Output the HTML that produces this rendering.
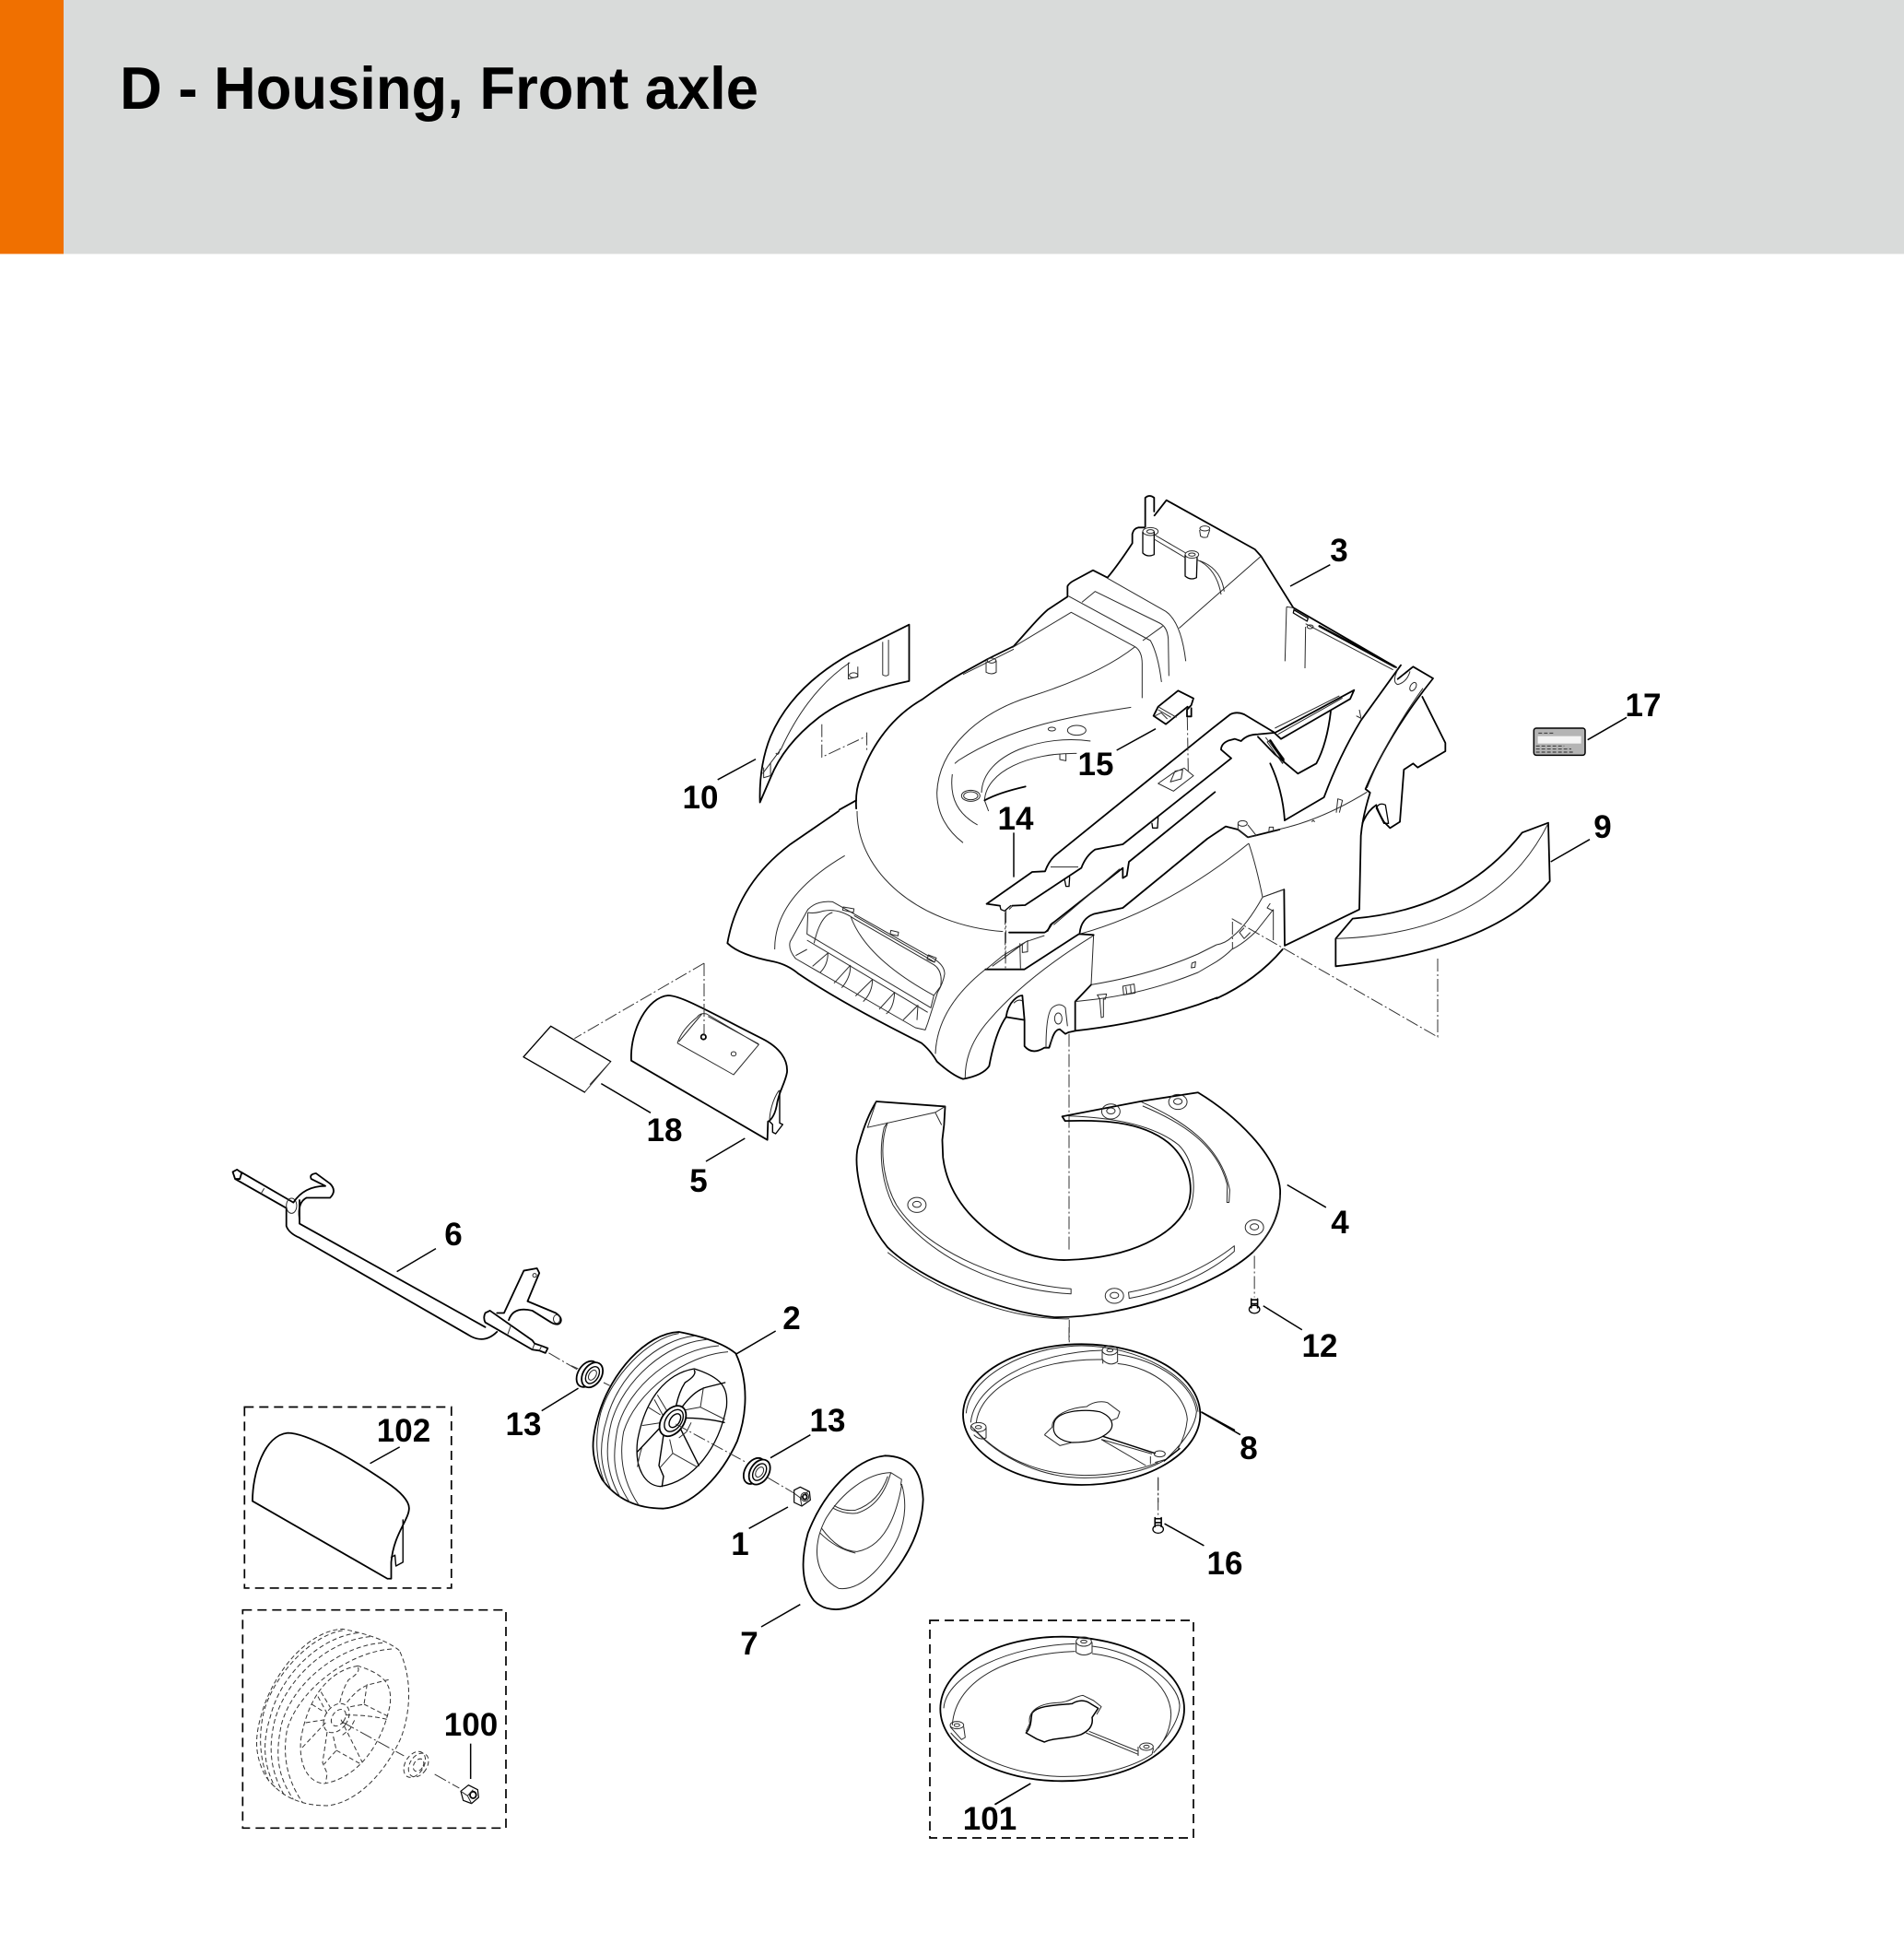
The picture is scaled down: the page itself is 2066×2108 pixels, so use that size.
<!DOCTYPE html>
<html><head><meta charset="utf-8"><title>D - Housing, Front axle</title>
<style>
html,body{margin:0;padding:0;background:#fff}
svg{display:block}
svg *{vector-effect:non-scaling-stroke}
.k{fill:none;stroke:#000;stroke-width:1.8;stroke-linejoin:round;stroke-linecap:round}
.s{fill:none;stroke:#2a2a2a;stroke-width:1;stroke-linejoin:round}
.d{fill:none;stroke:#333;stroke-width:1;stroke-dasharray:14 3 2 3}
.b{fill:none;stroke:#000;stroke-width:1.7;stroke-dasharray:10 6}
.w{fill:none;stroke:#333;stroke-width:1;stroke-dasharray:5 3}
.l{fill:none;stroke:#000;stroke-width:1.5}
.f{fill:#fff;stroke:#000;stroke-width:1.8;stroke-linejoin:round}
text{font-family:"Liberation Sans",sans-serif;font-weight:bold;fill:#000}
.n{font-size:35px;text-anchor:middle}
</style></head><body>
<svg xmlns="http://www.w3.org/2000/svg" width="2066" height="2108" viewBox="0 0 2066 2108">
<rect width="2066" height="2108" fill="#fff"/>
<rect width="2066" height="275.5" fill="#d9dbda"/>
<rect width="69" height="275.5" fill="#f07000"/>
<text x="130" y="118" font-size="65" textLength="693" lengthAdjust="spacingAndGlyphs">D - Housing, Front axle</text>

<!-- z1: part 10, dome -->
<g transform="translate(750,500) scale(.574,.4464)">
<path class="k" d="M412 398L412 535Q300 565 240 625Q175 690 150 770L130 830Q128 740 150 670Q190 550 300 470Z"/>
<path class="s" d="M300 490Q220 560 170 700L135 760M362 440L362 520Q368 525 373 520L373 435M297 490L297 530L315 525L315 500M137 745L137 770L150 765L150 735M160 710Q165 720 168 700"/>
<ellipse class="s" cx="307" cy="521" rx="8" ry="6"/>
<path class="d" d="M247 640L247 720L330 670M332 660L332 705"/>
<path class="l" d="M50 775L122 725"/>
<path class="k" d="M435 581C370 630 335 710 320 770Q310 800 312 845"/>
<path class="k" d="M312 825L280 848"/>
</g>

<!-- z7: upper housing -->
<g transform="translate(1000,520) scale(.33333)">
<path class="k" d="M0 718C45 685 90 655 130 632L215 585L300 543C340 500 375 455 410 425L475 382L475 348Q480 338 495 330L558 296L605 320C630 290 665 240 686 208L686 178Q690 160 705 157L725 157"/>
<path class="k" d="M728 155L728 60M757 60L757 105M728 60Q742 48 757 60M758 118L797 68L1085 228L1105 250L1210 418L1545 612"/>
<ellipse class="s" cx="745" cy="170" rx="25" ry="13"/><ellipse class="s" cx="745" cy="170" rx="12" ry="6"/>
<path class="k" d="M720 172L720 240Q735 255 757 245L757 172" style="stroke-width:1.3"/>
<ellipse class="s" cx="880" cy="245" rx="22" ry="12"/><ellipse class="s" cx="880" cy="245" rx="11" ry="5"/>
<path class="k" d="M858 248L858 315Q875 330 895 320L897 255" style="stroke-width:1.3"/>
<ellipse class="s" cx="922" cy="160" rx="16" ry="8"/>
<path class="s" d="M905 165L908 185Q918 192 930 188L938 165"/>
<path class="s" d="M757 180L860 240M757 195L858 255M897 262Q960 290 975 375M905 265Q975 290 985 365"/>
<path class="s" d="M1105 250L838 485M785 478L720 525"/>
<path class="s" d="M605 322L795 430Q845 465 860 592M478 380L745 525Q770 570 781 660M522 400L565 365L775 468Q800 480 803 520L805 640M295 548L487 433L695 545Q718 560 718 600L718 712"/>
<path class="s" d="M1188 415L1183 592M1188 415L1210 418M1250 480L1248 615"/>
<ellipse class="s" cx="1265" cy="480" rx="10" ry="6"/>
<path class="k" d="M1212 425L1258 452L1255 462L1210 435Z" style="stroke-width:1.3"/>
<path class="k" d="M1295 478L1540 610" style="stroke-width:2.4"/>
<path class="s" d="M1250 470L1535 620"/>
<ellipse class="s" cx="228" cy="590" rx="14" ry="8"/>
<path class="s" d="M210 592L210 628Q228 638 243 628L243 590M135 635L300 553"/>
<path class="s" d="M695 545C600 620 470 670 360 705C180 760 55 880 50 1020C50 1090 85 1145 135 1183"/>
<path class="s" d="M682 742C500 770 300 800 120 915L108 925M100 960C90 1040 120 1090 182 1125M550 852C400 830 200 890 195 1020M505 892C350 890 210 950 205 1045L218 1080"/>
<path class="k" d="M205 1045Q250 1020 338 1000"/>
<path class="s" d="M450 895L450 912L470 916L470 893"/>
<ellipse class="s" cx="505" cy="817" rx="30" ry="16"/><ellipse class="s" cx="424" cy="813" rx="12" ry="6"/>
<ellipse class="s" cx="160" cy="1030" rx="30" ry="18"/><ellipse class="s" cx="160" cy="1030" rx="23" ry="13"/>
<!-- plate 14 -->
<path class="k" d="M212 1382L360 1278L402 1276Q415 1240 440 1220L945 812L1005 765Q1025 755 1050 765L1150 825L1408 686L1395 715L1170 845L1148 825"/>
<path class="k" d="M212 1382L255 1388M295 1388L337 1386L520 1265Q535 1225 565 1205L655 1188L1008 908L975 880Q975 860 1000 850L1020 845L1040 852Q1060 830 1095 830L1148 825"/>
<path class="s" d="M420 1262L510 1262M285 1400L295 1390M1150 810L1360 705M1160 830L1370 712"/>
<path class="k" d="M255 1388L258 1400L270 1405L290 1388M465 1300L470 1325L480 1325L482 1295M750 1120L752 1135L768 1135L770 1100" style="stroke-width:1.3"/>
<path class="s" d="M770 990L820 955L855 940L885 965L820 1015ZM810 985L825 950L850 945L845 975Z"/>
<path class="d" d="M865 775L868 950M272 1408L272 1560"/>
<!-- part 15 -->
<path class="k" d="M755 770L770 740L835 688L885 713L878 735L864 750L864 772L878 772L878 745M755 770L795 797L866 740"/>
<path class="s" d="M770 740L830 775M770 750L812 775M760 770L780 760L800 780"/>
<path class="l" d="M762 812L635 882M300 1150L300 1295M1330 278L1200 348"/>
<!-- lower edges -->
<path class="k" d="M410 1470L420 1450L655 1265L655 1298L668 1290L675 1245L955 1018"/>
<path class="s" d="M430 1450L645 1268"/>
<path class="k" d="M515 1475Q520 1430 560 1415L655 1395L930 1170L990 1130L1030 1140L1062 1165L1085 1160L1165 1140"/>
<path class="s" d="M1065 1185Q1090 1260 1110 1360M1110 1360L1178 1335M515 1480Q800 1400 1065 1185"/>
<path class="k" d="M1135 925Q1175 1010 1182 1110M1095 838L1150 895L1225 958L1285 925Q1320 860 1332 755"/>
<path class="s" d="M1120 840L1180 920M1135 850L1180 910L1175 925L1125 855Z"/>
<path class="k" d="M1135 850L1178 915" style="stroke-width:2.4"/>
<path class="s" d="M1160 1140Q1300 1110 1450 1018"/>
<ellipse class="s" cx="1045" cy="1120" rx="15" ry="9"/>
<path class="s" d="M1030 1122L1030 1140L1060 1165L1090 1160L1062 1125M1130 1150L1132 1132L1145 1132L1145 1145M1350 1085L1355 1040L1370 1045L1360 1085M1270 1115L1275 1110L1280 1115"/>
</g>

<!-- z5: right side, 9, 17 -->
<g transform="translate(1320,720) scale(.33333)">
<path class="k" d="M220 735L222 918L465 800L470 560Q475 500 500 420L485 408Q560 230 705 48L640 10L590 50"/>
<path class="s" d="M672 80Q550 250 490 405M220 735L150 760Q100 850 50 890Q30 910 0 915M185 800L130 870Q90 910 50 930Q30 950 0 970M185 800L185 900M175 780L165 795L185 805"/>
<path class="k" d="M222 510L350 435Q400 300 470 185L600 5"/>
<path class="k" d="M670 108L745 258L745 285L655 338L640 325L610 345L597 515L565 535L545 515Q525 480 520 460Q490 480 475 520"/>
<path class="k" d="M520 470Q530 450 550 460L560 520L545 520Z" style="stroke-width:1.3"/>
<path class="s" d="M590 20Q570 60 590 68Q620 60 630 25M455 170L475 180M465 150L470 175M90 860L75 875L90 895L110 875"/>
<ellipse class="s" cx="640" cy="75" rx="9" ry="15" transform="rotate(30 640 75)"/>
<path class="k" d="M0 1090Q130 1030 215 930"/>
<path class="d" d="M720 960L720 1215L50 830M52 840L52 930"/>
<!-- 9 -->
<path class="k" d="M388 895L443 830Q800 800 995 550L1080 518L1085 708Q900 930 388 985Z"/>
<path class="s" d="M388 895Q900 880 1080 520"/>
<path class="l" d="M1088 645L1215 572M1208 248L1335 175"/>
<!-- 17 -->
<rect x="1033" y="210" width="167" height="88" rx="8" ry="8" fill="#b4b4b4" stroke="#000" stroke-width="1.5"/>
<rect x="1046" y="236" width="141" height="24" fill="#f4f4f4"/>
<path d="M1048 226L1098 226M1040 268L1132 268M1040 278L1155 278M1040 288L1165 288" stroke="#222" stroke-width=".9" stroke-dasharray="4 2" fill="none"/>
</g>

<!-- z8: front housing -->
<g transform="translate(780,880) scale(.33333)">
<path class="k" d="M390 0L230 110Q60 240 28 430Q70 470 180 490Q225 500 260 530Q400 625 660 755Q690 780 710 815Q760 860 795 872Q860 860 880 830Q900 720 935 670L995 680L995 765Q1020 795 1060 770L1075 770L1085 740Q1095 710 1110 710L1128 725L1138 720L1160 715Q1380 690 1560 630L1622 607"/>
<path class="s" d="M410 145Q180 280 182 450M450 0C450 200 650 370 925 392"/>
<path class="k" d="M945 395L1060 395Q1070 392 1085 365"/>
<path class="s" d="M290 320Q320 290 370 295L680 470Q735 495 735 530Q730 560 712 590L680 690L672 712L640 705L250 480Q225 450 232 425Z"/>
<path class="s" d="M290 330L287 400L690 640L700 600L722 570Q730 520 700 500L440 350Q390 315 340 325Q310 335 290 330"/>
<path class="s" d="M287 420L680 655M310 430Q330 340 370 330M430 345Q480 480 700 600M440 340L700 490"/>
<path class="s" d="M305 505L355 462Q355 500 330 525M375 560L428 502Q430 540 400 575M445 602L500 548Q500 590 470 620M522 645L572 590Q570 640 545 660M600 680L648 632L645 680M250 470L287 450"/>
<path class="s" d="M405 312L440 318L438 330L403 322ZM560 388L585 394L583 406L558 400ZM682 468L708 478L702 492L678 482Z"/>
<path class="s" d="M705 790Q710 640 868 515M802 870Q800 770 880 680Q1000 540 1220 405M1220 403L1212 565"/>
<path class="k" d="M868 515L995 515L1172 400L1220 403"/>
<path class="s" d="M870 515L925 470L1000 425L1060 405M890 505L1000 425M980 430L982 512M988 430L988 460L1005 458L1005 420"/>
<path class="k" d="M1160 715L1160 620L1212 565"/>
<path class="s" d="M1212 565Q1400 535 1560 465L1620 435M1160 620L1230 612Q1400 590 1560 525L1620 490"/>
<path class="s" d="M1232 598L1262 595L1258 612L1252 612L1252 670L1245 672L1240 612ZM1315 570L1352 563L1355 592L1318 598ZM1325 572L1328 595M1340 568L1342 592M1540 495L1552 490L1550 508L1538 510Z"/>
<path class="s" d="M1065 770Q1065 660 1085 640Q1110 620 1128 640L1135 700"/>
<ellipse class="s" cx="1105" cy="675" rx="12" ry="18"/>
<path class="k" d="M995 680L988 600Q975 600 960 615Q940 635 935 670"/>
<path class="s" d="M960 625Q975 610 988 618M1085 740L1078 768"/>
<path class="d" d="M935 322L933 515M1140 725L1140 1435"/>
</g>

<!-- z6: part 5, 18 -->
<g transform="translate(540,1020) scale(.33333)">
<path class="k" d="M435 392C430 290 490 185 555 180C600 180 700 240 860 320C920 350 945 390 942 430C935 470 915 490 908 540C900 580 882 590 880 590L878 650L435 392"/>
<path class="s" d="M915 490C895 520 885 560 885 590"/>
<path class="k" d="M918 490L918 595L928 600L905 630L895 625L895 600L885 590" style="stroke-width:1.4"/>
<path class="s" d="M585 335L768 438L850 340L680 240Q660 235 650 250Q600 290 585 335M665 240L590 330M685 248L850 338"/>
<ellipse class="k" cx="670" cy="315" rx="8" ry="8"/><ellipse class="s" cx="768" cy="370" rx="8" ry="7"/>
<path class="d" d="M672 75L672 310M672 75L250 320"/>
<path class="s" d="M173 280L368 395L283 495L84 380ZM368 395L300 470"/>
<path class="k" d="M173 280L368 395M283 495L84 380L173 280" style="stroke-width:1.3"/>
<path class="l" d="M337 467L498 562M805 645L678 720"/>
</g>

<!-- z3: part 4 and screws -->
<g transform="translate(900,1150) scale(.3827,.5421)">
<path class="k" d="M133 83L328 93L325 130L320 160L322 195C340 300 470 355 520 375C570 395 640 402 680 400C860 395 970 350 1010 300C1040 260 1020 200 960 165C880 120 760 120 668 122L660 113L888 82L1045 65C1150 110 1270 190 1278 260C1280 310 1250 350 1200 385C1100 450 850 515 640 515C480 505 260 440 165 375Q130 345 110 310C75 240 70 190 85 165Q105 115 133 83Z"/>
<path class="s" d="M133 83L108 135L300 105L328 93M300 105L318 130"/>
<path class="s" d="M165 125C140 170 150 240 190 290C280 390 520 450 685 458L685 468C500 462 280 400 180 290C145 240 140 180 155 135L165 125"/>
<path class="s" d="M848 465C970 450 1080 410 1148 372L1148 383C1080 425 970 462 850 477Z"/>
<path class="s" d="M885 84C1000 120 1110 170 1135 260L1133 285L1127 285L1128 250C1100 170 1000 125 888 92"/>
<path class="s" d="M680 112C800 115 920 130 990 170C1040 205 1040 270 1020 300M165 385C300 460 500 520 680 518M1278 270C1270 330 1230 365 1200 385"/>
<ellipse class="s" cx="248" cy="290" rx="26" ry="15"/><ellipse class="s" cx="248" cy="289" rx="12" ry="6"/>
<ellipse class="s" cx="798" cy="103" rx="26" ry="15"/><ellipse class="s" cx="798" cy="102" rx="12" ry="6"/>
<ellipse class="s" cx="988" cy="84" rx="26" ry="15"/><ellipse class="s" cx="988" cy="83" rx="12" ry="6"/>
<ellipse class="s" cx="1205" cy="335" rx="26" ry="15"/><ellipse class="s" cx="1205" cy="334" rx="12" ry="6"/>
<ellipse class="s" cx="808" cy="472" rx="26" ry="15"/><ellipse class="s" cx="808" cy="471" rx="12" ry="6"/>
<path class="l" d="M1298 250L1408 295M1230 492L1340 540M1055 705L1165 750M950 928L1062 972M570 1448L470 1490"/>
<path class="d" d="M1205 392L1205 475M680 520L680 565M932 835L932 915"/>
<ellipse class="k" cx="1205" cy="499" rx="15" ry="8" style="stroke-width:1.3"/>
<path class="k" d="M1196 480L1214 480M1196 488L1214 488M1196 478L1196 496M1214 478L1214 496" style="stroke-width:1.6"/>
<ellipse class="k" cx="932" cy="939" rx="15" ry="8" style="stroke-width:1.3"/>
<path class="k" d="M923 918L941 918M923 926L941 926M923 916L923 934M941 916L941 934" style="stroke-width:1.6"/>
</g>

<!-- z11: part 8 -->
<g transform="translate(1020,1440) scale(.33333)">
<ellipse class="k" cx="461" cy="284" rx="386" ry="229"/>
<path class="s" d="M85 280C95 160 280 62 460 60C640 60 830 160 840 275M100 310C110 190 300 80 530 75M580 88C720 110 825 190 835 275Q830 340 735 430M118 310C130 200 300 100 530 105L530 118M578 118C700 130 800 220 805 300Q800 350 775 395"/>
<path class="s" d="M100 320C200 440 350 490 470 490C580 490 680 465 735 430M110 330C220 450 360 480 470 482C570 482 660 460 710 440"/>
<ellipse class="s" cx="553" cy="75" rx="25" ry="15"/><ellipse class="s" cx="553" cy="75" rx="10" ry="5"/>
<path class="s" d="M528 78L528 105Q553 130 578 112L578 78"/>
<ellipse class="s" cx="125" cy="325" rx="25" ry="15"/><ellipse class="s" cx="125" cy="325" rx="10" ry="5"/>
<path class="s" d="M150 325L150 360Q130 370 110 350"/>
<path class="k" d="M370 320C370 270 470 265 520 275C560 290 570 320 550 340C520 370 470 375 430 375C390 370 365 350 370 320Z" style="stroke-width:1.2"/>
<path class="s" d="M340 350L365 325C365 285 420 262 478 258C500 240 530 240 545 245L585 275L578 295L555 305M340 350L390 385L430 375"/>
<path class="k" d="M530 355L700 410" style="stroke-width:1.4"/>
<path class="s" d="M525 365L690 412M525 365L670 450M685 420L685 445M735 430L700 440"/>
<ellipse class="s" cx="715" cy="412" rx="18" ry="10"/>
<path class="k" d="M730 435L780 395" style="stroke-width:1.4"/>
<path class="l" d="M850 275L960 335"/>
<path class="d" d="M420 0L420 50M710 490L710 570"/>
</g>

<!-- z12: part 101 -->
<g transform="translate(1000,1770) scale(.33333)">
<ellipse class="k" cx="458" cy="252" rx="397" ry="235"/>
<path class="s" d="M72 250C80 140 290 45 500 40M555 48C700 65 835 160 840 240Q840 300 755 395M100 305C110 150 300 70 500 65M555 72C700 90 810 170 812 270Q810 330 770 380M95 330C180 430 350 470 450 472C580 475 690 440 750 400"/>
<ellipse class="s" cx="528" cy="33" rx="25" ry="15"/><ellipse class="s" cx="528" cy="33" rx="10" ry="5"/>
<path class="s" d="M503 35L503 68Q528 85 555 68L555 35"/>
<ellipse class="s" cx="115" cy="305" rx="22" ry="12"/><ellipse class="s" cx="115" cy="305" rx="9" ry="5"/>
<path class="s" d="M93 310L130 352L142 345L137 310"/>
<ellipse class="s" cx="732" cy="375" rx="22" ry="12"/><ellipse class="s" cx="732" cy="375" rx="9" ry="5"/>
<path class="s" d="M705 375L705 405M755 380L750 400"/>
<path class="k" d="M340 330C360 310 355 280 360 265C380 240 440 240 490 235C505 225 530 220 550 235L575 250L555 280C560 310 540 325 520 335C480 350 430 345 400 360L375 350Z" style="stroke-width:1.5"/>
<path class="s" d="M340 325L352 300C345 260 380 235 440 232C480 232 500 210 525 208L560 225L585 245L570 270M535 330L705 400M545 325L705 390"/>
<path class="l" d="M355 495L238 563"/>
</g>
<rect class="b" x="1009" y="1758" width="286" height="236"/>

<!-- z9: wheel, bearings, nut, part 7 -->
<g transform="translate(620,1420) scale(.33333)">
<path class="k" d="M535 145Q480 100 350 75C240 80 130 210 90 340C65 420 60 480 100 555C150 625 220 650 300 650C400 640 490 540 540 430C570 350 580 240 535 145Z"/>
<path class="s" d="M350 80C250 95 130 220 95 340C75 420 80 500 110 570M400 88C280 100 150 220 115 360C90 440 90 510 130 590M440 100C310 110 170 230 130 370C110 450 110 530 160 615M480 120C340 130 185 250 150 390C135 470 130 540 190 630M510 140C370 150 210 270 170 400C155 480 165 560 220 640"/>
<path class="k" d="M400 195C310 210 240 290 215 430C205 520 240 575 290 578C400 560 480 450 505 320C510 260 495 225 400 195" style="stroke-width:1.3"/>
<path class="k" d="M400 200Q410 215 370 240Q350 270 340 320M500 240Q480 245 440 255Q400 265 360 320M360 355Q440 355 498 370M345 370L415 510M300 410L285 510L300 545L295 578M295 380L215 465" style="stroke-width:1.4"/>
<path class="s" d="M430 255L420 320L365 330M420 320L500 360M350 420L375 400L390 370M320 425L330 470L290 515M330 470L410 515M230 380L295 370M230 450Q220 480 215 515M270 295L300 350M250 320L290 345M280 280L310 330"/>
<g transform="rotate(35 330 365)"><ellipse class="f" cx="330" cy="365" rx="36" ry="55"/><ellipse class="k" cx="332" cy="362" rx="25" ry="40" style="stroke-width:1.4"/><ellipse class="k" cx="335" cy="360" rx="15" ry="25" style="stroke-width:1.4"/></g>
<path class="d" d="M340 375L570 500M640 550L725 600M105 240L125 250M0 185L22 195"/>
<g transform="rotate(32 62 215)"><ellipse class="k" cx="52" cy="218" rx="30" ry="46"/><ellipse class="f" cx="67" cy="212" rx="30" ry="44"/><ellipse class="k" cx="68" cy="212" rx="19" ry="30" style="stroke-width:1.4"/><ellipse class="s" cx="68" cy="212" rx="11" ry="18"/></g>
<g transform="rotate(32 605 530)"><ellipse class="k" cx="596" cy="533" rx="30" ry="46"/><ellipse class="f" cx="612" cy="527" rx="30" ry="44"/><ellipse class="k" cx="612" cy="527" rx="19" ry="30" style="stroke-width:1.4"/><ellipse class="s" cx="612" cy="527" rx="11" ry="18"/></g>
<path class="f" d="M725 590L745 580L775 595L778 622L750 642L725 630Z" style="stroke-width:1.2"/>
<ellipse class="s" cx="760" cy="612" rx="13" ry="14"/><ellipse class="k" cx="760" cy="612" rx="7" ry="8"/>
<path class="s" d="M725 600L745 615L750 642M745 615L770 595"/>
<path class="l" d="M535 148L665 72M648 485L778 410M578 715L705 645M618 1035L745 962"/>
<path class="k" d="M1145 620C1140 520 1100 480 1020 478C920 490 820 600 770 730C745 820 750 900 790 950C830 990 890 985 950 950C1040 895 1140 760 1145 620Z"/>
<path class="s" d="M1040 533C960 535 880 600 830 680C780 770 790 870 870 910C950 920 1030 820 1065 740C1090 680 1090 620 1075 570M1040 533L1075 555L1072 575M1040 533Q1010 640 930 665Q890 670 850 648M1030 545Q1000 630 925 655Q885 660 855 640M1075 575Q1040 770 930 790Q870 790 815 715M810 730Q860 780 925 795"/>
</g>

<!-- z2: axle, 102 -->
<g transform="translate(200,1200) scale(.5102)">
<path class="k" d="M120 140L232 205M108 155L217 217M103 140L112 135L122 142L118 155L108 155Z"/>
<path class="s" d="M170 175L162 188"/>
<path class="k" d="M217 217L217 255Q222 270 245 280L610 490Q640 505 665 480M245 200L245 250L640 470"/>
<ellipse class="s" cx="228" cy="212" rx="11" ry="16"/>
<path class="k" d="M232 205Q255 170 300 170L270 155Q265 145 280 143L310 165Q325 180 310 195L260 195Q240 205 245 240"/>
<path class="k" d="M680 440L722 350L750 345L755 355L730 415L790 440Q805 450 800 460Q795 468 780 460L740 435Q700 425 690 455M665 440L680 440"/>
<ellipse class="s" cx="745" cy="360" rx="4" ry="4"/>
<ellipse class="s" cx="792" cy="453" rx="7" ry="9"/>
<path class="f" d="M640 440L650 435L740 498L745 505L760 510L773 515L768 525L755 520L740 518L640 460Q635 450 640 440Z"/>
<path class="s" d="M695 465L688 485M745 505L740 518M760 510L755 520"/>
<path class="d" d="M775 525L835 560"/>
<path class="l" d="M452 352L535 303M760 648L838 600M395 760L458 725"/>
<path class="b" d="M128 640L568 640L568 1025L128 1025Z"/>
<path class="k" d="M145 840C145 780 170 700 220 695C260 695 350 745 430 800C460 820 478 840 478 855C478 880 445 910 440 970L440 1005L432 1005L145 840"/>
<path class="k" d="M465 880L465 970L450 978L448 955L440 960" style="stroke-width:1.4"/>
</g>

<!-- z10: inset 100 -->
<g transform="translate(250,1740) scale(.33333)">
<path class="b" d="M40 20L897 20L897 730L40 730Z"/>
<g transform="translate(15,7)">
<path class="w" d="M535 145Q480 100 350 75C240 80 130 210 90 340C65 420 60 480 100 555C150 625 220 650 300 650C400 640 490 540 540 430C570 350 580 240 535 145Z"/>
<path class="w" d="M350 80C250 95 130 220 95 340C75 420 80 500 110 570M400 88C280 100 150 220 115 360C90 440 90 510 130 590M440 100C310 110 170 230 130 370C110 450 110 530 160 615M480 120C340 130 185 250 150 390C135 470 130 540 190 630M510 140C370 150 210 270 170 400C155 480 165 560 220 640"/>
<path class="w" d="M400 195C310 210 240 290 215 430C205 520 240 575 290 578C400 560 480 450 505 320C510 260 495 225 400 195M400 200Q410 215 370 240Q350 270 340 320M500 240Q480 245 440 255Q400 265 360 320M360 355Q440 355 498 370M345 370L415 510M300 410L285 510L300 545L295 578M295 380L215 465M430 255L420 320L365 330M420 320L500 360M350 420L375 400L390 370M320 425L330 470L290 515M330 470L410 515M230 380L295 370M270 295L300 350M250 320L290 345M280 280L310 330"/>
<g transform="rotate(35 330 365)"><ellipse class="w" cx="330" cy="365" rx="36" ry="52"/><ellipse class="w" cx="335" cy="360" rx="20" ry="30"/></g>
</g>
<path class="d" d="M365 385L565 495M665 555L745 600"/>
<g transform="rotate(32 607 524)"><ellipse class="w" cx="600" cy="527" rx="30" ry="46"/><ellipse class="w" cx="612" cy="522" rx="28" ry="42"/><ellipse class="w" cx="612" cy="522" rx="15" ry="22"/></g>
<path class="f" d="M750 610L775 590L805 605L808 630L785 650L758 640Z" style="stroke-width:1.2"/>
<ellipse class="k" cx="790" cy="622" rx="10" ry="11"/>
<path class="s" d="M750 610L772 625L785 650M772 625L790 605"/>
<path class="l" d="M782 455L782 570"/>
</g>

<!-- labels -->
<g>
<text class="n" x="1453" y="609">3</text>
<text class="n" x="1189" y="841">15</text>
<text class="n" x="1102" y="900">14</text>
<text class="n" x="760" y="877">10</text>
<text class="n" x="1783" y="777">17</text>
<text class="n" x="1739" y="909">9</text>
<text class="n" x="721" y="1238">18</text>
<text class="n" x="758" y="1293">5</text>
<text class="n" x="859" y="1442">2</text>
<text class="n" x="492" y="1351">6</text>
<text class="n" x="568" y="1557">13</text>
<text class="n" x="898" y="1553">13</text>
<text class="n" x="803" y="1687">1</text>
<text class="n" x="813" y="1795">7</text>
<text class="n" x="438" y="1564">102</text>
<text class="n" x="511" y="1883">100</text>
<text class="n" x="1454" y="1338">4</text>
<text class="n" x="1432" y="1472">12</text>
<text class="n" x="1355" y="1583">8</text>
<text class="n" x="1329" y="1708">16</text>
<text class="n" x="1074" y="1985">101</text>
</g>
</svg>
</body></html>
